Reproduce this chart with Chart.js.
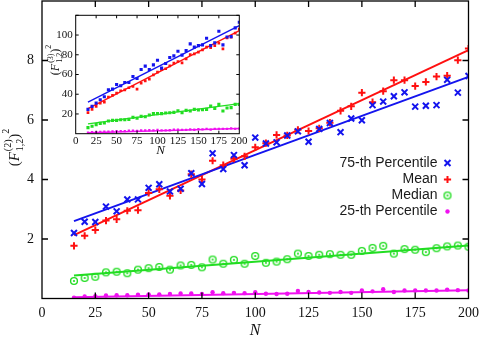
<!DOCTYPE html>
<html>
<head>
<meta charset="utf-8">
<script src="https://cdn.jsdelivr.net/npm/chart.js@4.4.1/dist/chart.umd.min.js"></script>
<style>
    html, body { margin: 0; padding: 0; background: #fff; }
    #wrap { position: relative; width: 479px; height: 342px; }
    #mainChart { position: absolute; left: 0; top: 0; }
    #insetChart { position: absolute; left: 44px; top: 8px; }
</style>
</head>
<body>
<div id="wrap">
    <canvas id="mainChart" width="479" height="342"></canvas>
    <canvas id="insetChart" width="204" height="152"></canvas>
</div>
<script>
// sample sizes
const nValues = [15, 20, 25, 30, 35, 40, 45, 50, 55, 60, 65, 70, 75, 80, 85, 90, 95, 100, 105,
    110, 115, 120, 125, 130, 135, 140, 145, 150, 155, 160, 165, 170, 175, 180, 185, 190, 195, 200];

// main plot: (F^(2)_{1,2})^2
const p75Main = [2.20, 2.58, 2.57, 3.09, 2.93, 3.33, 3.33, 3.72, 3.84, 3.60, 3.69, 4.21, 3.85, 4.88, 4.35, 4.82, 4.48, 5.41, 5.21,
    5.25, 5.48, 5.62, 5.27, 5.70, 5.90, 5.59, 6.05, 5.99, 6.50, 6.62, 6.80, 6.93, 6.45, 6.48, 6.50, 7.35, 6.92, 7.48];
const meanMain = [1.77, 2.11, 2.30, 2.62, 2.66, 2.95, 2.97, 3.55, 3.67, 3.45, 3.63, 4.18, 4.00, 4.63, 4.48, 4.70, 4.78, 5.08, 5.22,
    5.50, 5.48, 5.67, 5.63, 5.72, 5.91, 6.31, 6.46, 6.92, 6.60, 6.97, 7.34, 7.34, 7.14, 7.28, 7.46, 7.49, 8.01, 8.40];
const medianMain = [0.59, 0.69, 0.73, 0.88, 0.90, 0.85, 0.97, 1.02, 1.06, 0.97, 1.11, 1.13, 1.05, 1.31, 1.17, 1.30, 1.17, 1.43, 1.20,
    1.24, 1.32, 1.51, 1.43, 1.47, 1.49, 1.47, 1.47, 1.60, 1.70, 1.77, 1.51, 1.66, 1.64, 1.56, 1.69, 1.75, 1.78, 1.74];
const p25Main = [0.03, 0.07, 0.08, 0.10, 0.11, 0.11, 0.13, 0.14, 0.14, 0.15, 0.17, 0.17, 0.15, 0.21, 0.18, 0.19, 0.18, 0.21, 0.16,
    0.15, 0.16, 0.25, 0.22, 0.20, 0.19, 0.22, 0.19, 0.27, 0.24, 0.31, 0.22, 0.27, 0.27, 0.27, 0.27, 0.30, 0.28, 0.27];

// inset: (F^(3)_{1,2})^2
const p75Inset = [24.7, 27.7, 31, 34.4, 37.5, 44.5, 45.2, 49.9, 48.6, 51.9, 51.9, 58, 56, 65, 68.5, 65, 69.8, 74.5, 66.5,
    71.2, 77.2, 78.9, 83.6, 79.6, 84.2, 91, 87.7, 89.3, 90, 96.8, 89.3, 92, 103.8, 90, 98, 98.4, 107.2, 112.9];
const meanInset = [21.3, 24.7, 27.7, 31, 32, 37.2, 38.8, 41.2, 43.5, 44.5, 46.6, 47.9, 45.2, 51.3, 53.6, 55.4, 59.7, 62.4, 65,
    65.8, 68.8, 71.5, 73.2, 71.8, 75.9, 80.2, 80.9, 82.6, 85, 87.7, 87.3, 89.3, 91.7, 86, 97, 97.8, 102, 106];
const medianInset = [6.2, 7.5, 9.2, 10.5, 10.8, 12.9, 13.5, 13.5, 14.2, 14.2, 14.5, 16.6, 15.6, 17.6, 17.2, 19, 20.3, 20.3, 20.3,
    21, 21.3, 21.6, 23.3, 21.3, 23.6, 23, 24.7, 24, 24.3, 24.7, 28, 25.7, 29.7, 23, 26, 26.4, 29.7, 29.7];
const p25Inset = [1.2, 1.5, 1.6, 1.8, 2.0, 2.0, 2.3, 2.5, 2.6, 2.7, 3.0, 3.0, 2.9, 3.4, 3.3, 3.5, 3.3, 3.8, 3.3,
    3.4, 3.5, 4.2, 4.0, 3.9, 3.8, 4.3, 4.0, 4.6, 4.4, 5.0, 4.2, 4.8, 4.9, 4.9, 4.9, 5.4, 5.0, 5.2];

// linear fits (values at first and last N)
const fitN = [15, 200];
const p75FitMain = [2.60, 7.45];
const meanFitMain = [2.13, 8.35];
const medianFitMain = [0.77, 1.78];
const p25FitMain = [0.04, 0.28];
const p75FitInset = [32, 109.5];
const meanFitInset = [25.3, 104.5];
const medianFitInset = [10, 30.5];
const p25FitInset = [1.0, 5.3];

const legendLabels = ['75-th Percentile', 'Mean', 'Median', '25-th Percentile'];
const xTicksMain = [0, 25, 50, 75, 100, 125, 150, 175, 200];
const yTicksMain = [2, 4, 6, 8];
const yTicksInset = [20, 40, 60, 80, 100];

const BLUE = '#1414ee';
const RED = '#ff1010';
const GREEN = '#22dd22';
const MAGENTA = '#f010f0';
const SERIF = '"Liberation Serif", "DejaVu Serif", serif';

// circle with a dot in the middle
function ringDot(color, size) {
    const c = document.createElement('canvas');
    c.width = size; c.height = size;
    const g = c.getContext('2d');
    const m = size / 2;
    g.strokeStyle = color;
    g.lineWidth = 1.4;
    g.beginPath(); g.arc(m, m, m - 1.6, 0, Math.PI * 2); g.stroke();
    g.fillStyle = color;
    g.beginPath(); g.arc(m, m, 1.1, 0, Math.PI * 2); g.fill();
    return c;
}

function toPoints(ys) {
    return ys.map((v, i) => ({ x: nValues[i], y: v }));
}
function fitPoints(ys) {
    return ys.map((v, i) => ({ x: fitN[i], y: v }));
}

// (F^{(k)}_{1,2})^2, rotated
function drawFLabel(ctx, cx, cy, size, k) {
    const small = Math.round(size * 0.68);
    const big = size + 'px ' + SERIF;
    const ital = 'italic ' + size + 'px ' + SERIF;
    const sm = small + 'px ' + SERIF;
    ctx.save();
    ctx.translate(cx, cy);
    ctx.rotate(-Math.PI / 2);
    ctx.fillStyle = '#111';
    ctx.textBaseline = 'alphabetic';
    ctx.textAlign = 'left';
    const m = (f, t) => { ctx.font = f; return ctx.measureText(t).width; };
    const wOpen = m(big, '('), wF = m(ital, 'F'), wSup = m(sm, '(' + k + ')'), wSub = m(sm, '1,2');
    const wClose = m(big, ')'), wSq = m(sm, '2');
    const wMid = Math.max(wSup, wSub);
    const total = wOpen + wF + 1 + wMid + wClose + wSq;
    let x = -total / 2;
    const base = size * 0.35;
    ctx.font = big; ctx.fillText('(', x, base); x += wOpen;
    ctx.font = ital; ctx.fillText('F', x, base); x += wF + 1;
    ctx.font = sm;
    ctx.fillText('(' + k + ')', x, base - size * 0.5);
    ctx.fillText('1,2', x, base + size * 0.3);
    x += wMid;
    ctx.font = big; ctx.fillText(')', x, base); x += wClose;
    ctx.font = sm; ctx.fillText('2', x, base - size * 0.62);
    ctx.restore();
}

// frame with inward ticks on all four sides
function framePlugin(tickLen, lineWidth, xTicks, yTicks, extra) {
    return {
        id: 'frame',
        afterDraw(chart) {
            const { ctx, chartArea: a, scales: { x, y } } = chart;
            ctx.save();
            ctx.strokeStyle = '#000';
            ctx.lineWidth = lineWidth;
            ctx.beginPath();
            xTicks.forEach(v => {
                const px = x.getPixelForValue(v);
                if (px <= a.left + 1 || px >= a.right - 1) return;
                ctx.moveTo(px, a.bottom); ctx.lineTo(px, a.bottom - tickLen);
                ctx.moveTo(px, a.top); ctx.lineTo(px, a.top + tickLen);
            });
            yTicks.forEach(v => {
                const py = y.getPixelForValue(v);
                ctx.moveTo(a.left, py); ctx.lineTo(a.left + tickLen, py);
                ctx.moveTo(a.right, py); ctx.lineTo(a.right - tickLen, py);
            });
            ctx.stroke();
            ctx.strokeRect(a.left, a.top, a.right - a.left, a.bottom - a.top);
            ctx.restore();
            if (extra) extra(chart);
        }
    };
}

function makeScales(xMax, yMax, yTicks, fontSize, xPad, yPad, yWidth, xHeight) {
    return {
        x: {
            type: 'linear', min: 0, max: xMax,
            grid: { display: false, drawTicks: false }, border: { display: false },
            ticks: { stepSize: 25, padding: xPad, color: '#111', maxRotation: 0, font: { family: SERIF, size: fontSize } },
            afterFit: s => { s.height = xHeight; s.paddingLeft = 0; s.paddingRight = 0; }
        },
        y: {
            type: 'linear', min: 0, max: yMax,
            grid: { display: false, drawTicks: false }, border: { display: false },
            ticks: { padding: yPad, color: '#111', font: { family: SERIF, size: fontSize } },
            afterBuildTicks: s => { s.ticks = yTicks.map(v => ({ value: v })); },
            afterFit: s => { s.width = yWidth; s.paddingTop = 0; s.paddingBottom = 0; }
        }
    };
}

const medianStyle = ringDot(GREEN, 10);

const mainSeries = [
    { data: p75Main, fit: p75FitMain, color: BLUE, style: 'crossRot', radius: 4.2, bw: 2 },
    { data: meanMain, fit: meanFitMain, color: RED, style: 'cross', radius: 3.6, bw: 2 },
    { data: medianMain, fit: medianFitMain, color: GREEN, style: medianStyle, radius: 4, bw: 1.4 },
    { data: p25Main, fit: p25FitMain, color: MAGENTA, style: 'circle', radius: 2.2, bw: 0 }
];

function buildDatasets(series, lineWidth) {
    const ds = [];
    series.forEach((s, i) => {
        ds.push({
            label: legendLabels[i],
            data: toPoints(s.data),
            pointStyle: s.style, pointRadius: s.radius, pointBorderWidth: s.bw,
            borderColor: s.color, backgroundColor: s.color,
            showLine: false
        });
    });
    series.forEach((s, i) => {
        ds.push({
            label: legendLabels[i] + ' fit',
            data: fitPoints(s.fit),
            borderColor: s.color, borderWidth: lineWidth,
            pointRadius: 0, showLine: true, tension: 0
        });
    });
    return ds;
}

function drawMainExtras(chart) {
    const ctx = chart.ctx;
    // legend, text left of marker
    ctx.save();
    ctx.font = '14px "Liberation Sans", Arial, sans-serif';
    ctx.textAlign = 'right';
    ctx.textBaseline = 'middle';
    const rows = [163, 179.5, 195.5, 211.5];
    mainSeries.forEach((s, i) => {
        ctx.fillStyle = '#1a1a1a';
        ctx.fillText(legendLabels[i], 437.5, rows[i]);
        ctx.strokeStyle = s.color;
        ctx.fillStyle = s.color;
        ctx.lineWidth = s.bw;
        Chart.helpers.drawPoint(ctx, { pointStyle: s.style, radius: s.radius, rotation: 0, borderWidth: s.bw }, 447.5, rows[i]);
    });
    ctx.restore();
    // axis titles
    ctx.save();
    ctx.fillStyle = '#111';
    ctx.font = 'italic 16px ' + SERIF;
    ctx.textAlign = 'center';
    ctx.textBaseline = 'middle';
    ctx.fillText('N', 255, 331);
    ctx.restore();
    drawFLabel(ctx, 13.5, 147.5, 15, 2);
}

new Chart(document.getElementById('mainChart'), {
    type: 'scatter',
    data: { datasets: buildDatasets(mainSeries, 2) },
    options: {
        responsive: false,
        animation: false,
        layout: { autoPadding: false, padding: { top: 1, right: 10.5, left: 0, bottom: 0 } },
        plugins: { legend: { display: false }, tooltip: { enabled: false } },
        scales: makeScales(200, 10, yTicksMain, 14, 6, 8, 42, 43.5)
    },
    plugins: [framePlugin(6, 1.3, xTicksMain, yTicksMain, drawMainExtras)]
});

// inset
const insetSeries = [
    { data: p75Inset, fit: p75FitInset, color: BLUE, style: 'rect', radius: 2.2, bw: 0 },
    { data: meanInset, fit: meanFitInset, color: RED, style: 'rect', radius: 1.9, bw: 0 },
    { data: medianInset, fit: medianFitInset, color: GREEN, style: 'rect', radius: 2.2, bw: 0 },
    { data: p25Inset, fit: p25FitInset, color: MAGENTA, style: 'rect', radius: 1.6, bw: 0 }
];

function drawInsetExtras(chart) {
    const ctx = chart.ctx;
    ctx.save();
    ctx.fillStyle = '#111';
    ctx.font = 'italic 13px ' + SERIF;
    ctx.textAlign = 'center';
    ctx.textBaseline = 'middle';
    ctx.fillText('N', 116.5, 143);
    ctx.restore();
    drawFLabel(ctx, 10.5, 52, 12, 3);
}

new Chart(document.getElementById('insetChart'), {
    type: 'scatter',
    data: { datasets: buildDatasets(insetSeries, 1.4) },
    options: {
        responsive: false,
        animation: false,
        layout: { autoPadding: false, padding: { top: 7.3, right: 8.7, left: 0, bottom: 0 } },
        plugins: { legend: { display: false }, tooltip: { enabled: false } },
        scales: makeScales(200, 120, yTicksInset, 11, 1, 3, 31.7, 26.3)
    },
    plugins: [framePlugin(3, 1, xTicksMain, yTicksInset.concat([120]), drawInsetExtras)]
});
</script>
</body>
</html>
